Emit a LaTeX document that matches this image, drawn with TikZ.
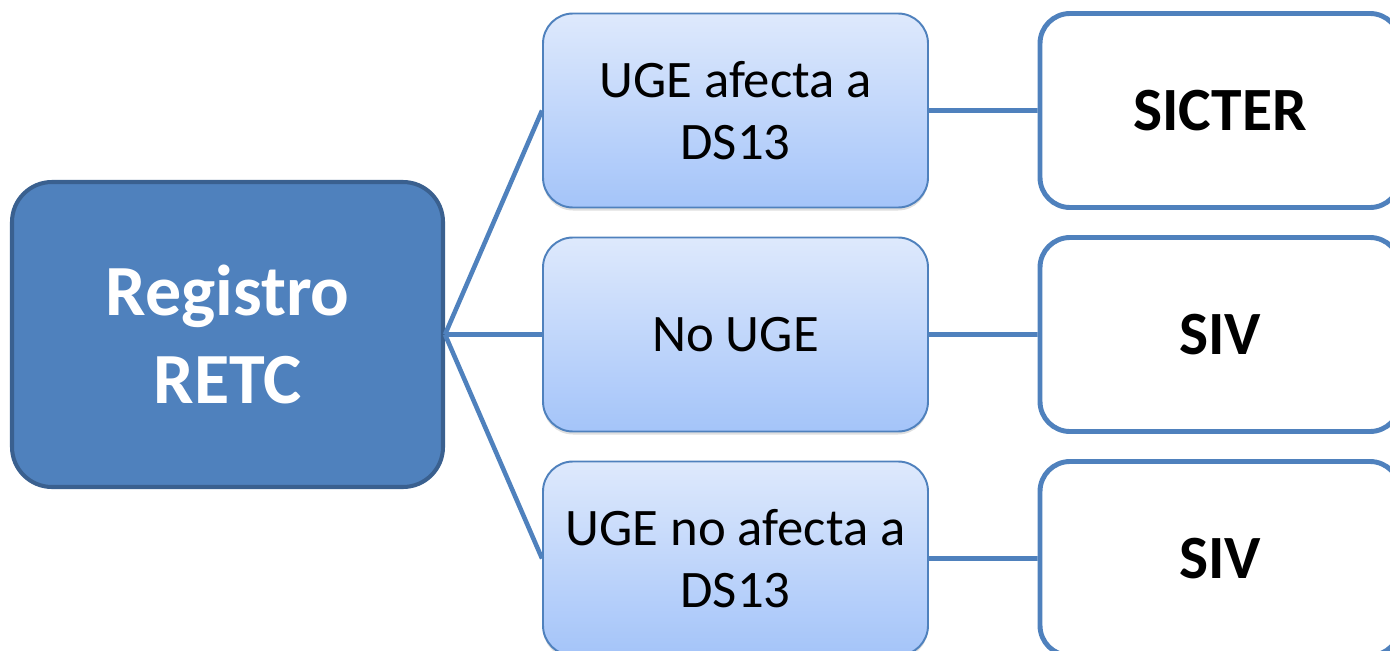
\documentclass[tikz,border=0pt]{standalone}
\usepackage{fontspec}
\setmainfont{Carlito}
\usetikzlibrary{trees,positioning,shadows}

\definecolor{retcblue}{RGB}{79,129,189}
\definecolor{retcdark}{RGB}{58,96,143}
\definecolor{ugetop}{RGB}{222,233,252}
\definecolor{ugebottom}{RGB}{164,196,249}

\begin{document}
\begin{tikzpicture}[
  grow' = right,
  parent anchor = east, child anchor = west,
  edge from parent/.style = {draw = retcblue, line width = 2.6pt},
  level 1/.style = {level distance = 10.16cm, sibling distance = 4.48cm},
  level 2/.style = {level distance = 9.69cm},
  rootbox/.style = {fill = retcblue, draw = retcdark, line width = 2.3pt, shape = rectangle, rounded corners = 0.8cm,
    minimum width = 8.62cm, minimum height = 6.1cm, align = center, text = white,
    font = \fontsize{41}{50}\selectfont\bfseries},
  ugebox/.style = {top color = ugetop, bottom color = ugebottom, draw = retcblue, line width = 1.1pt, shape = rectangle,
    rounded corners = 0.6cm, minimum width = 7.7cm, minimum height = 3.88cm, align = center,
    drop shadow = {opacity = 0.25, shadow xshift = 0cm, shadow yshift = -0.06cm},
    font = \fontsize{30}{35}\selectfont},
  sysbox/.style = {fill = white, draw = retcblue, line width = 2.8pt, shape = rectangle, rounded corners = 0.6cm,
    minimum width = 7.2cm, minimum height = 3.88cm, align = center,
    font = \fontsize{35}{42}\selectfont\bfseries}
]
\useasboundingbox (0,0) rectangle (27.8,-13.02);
\node[rootbox] (retc) at (4.55,-6.69) {Registro\\RETC}
child {node[ugebox] (uge) {UGE afecta a\\DS13}
  child {node[sysbox] (sicter) {SICTER}}
}
child {node[ugebox] (nouge) {No UGE}
  child {node[sysbox] (siv) {SIV}}
}
child {node[ugebox] (ugeno) {UGE no afecta a\\DS13}
  child {node[sysbox] (sivno) {SIV}}
};
\end{tikzpicture}
\end{document}
